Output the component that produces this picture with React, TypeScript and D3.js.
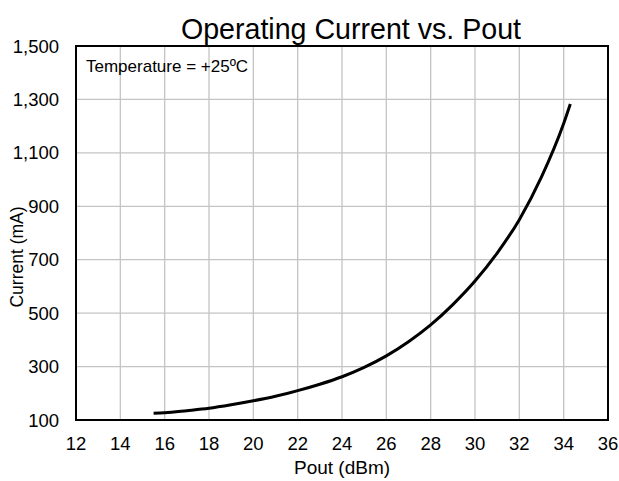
import React from 'react'
import * as d3 from 'd3'

// Pout (dBm)
const poutDbm = [15.5, 16, 17, 18, 19, 20, 21, 22, 23, 24, 25, 26, 27, 28, 29, 30, 31, 32, 33, 34, 34.3]
// Current (mA)
const currentMa = [125, 127, 135, 144, 157, 172, 189, 210, 234, 262, 297, 340, 393, 456, 532, 620, 725, 850, 1010, 1210, 1283]

const xTicks = [12, 14, 16, 18, 20, 22, 24, 26, 28, 30, 32, 34, 36]
const yTicks = [100, 300, 500, 700, 900, 1100, 1300, 1500]

const width = 619
const height = 481
const margin = { top: 46, right: 11, bottom: 61, left: 76 }

const App = () => {
	const plotW = width - margin.left - margin.right
	const plotH = height - margin.top - margin.bottom

	const x = d3.scaleLinear().domain([12, 36]).range([0, plotW])
	const y = d3.scaleLinear().domain([100, 1500]).range([plotH, 0])

	const points: [number, number][] = poutDbm.map((p, i) => [p, currentMa[i]])
	const line = d3.line<[number, number]>()
		.x(d => x(d[0]))
		.y(d => y(d[1]))
		.curve(d3.curveMonotoneX)

	const fmt = d3.format(',')
	const font = '"Liberation Sans", Arial, sans-serif'

	return (
		<svg width={width} height={height} style={{ position: 'absolute', left: 0, top: 0, fontFamily: font }}>
			<rect width={width} height={height} fill="#fff" />
			<text x={351} y={39} textAnchor="middle" fontSize={28.6} fill="#000">
				Operating Current vs. Pout
			</text>
			<g transform={`translate(${margin.left}, ${margin.top})`}>
				{/* grid */}
				{xTicks.map(t => (
					<line key={`vx-${t}`} x1={x(t)} x2={x(t)} y1={0} y2={plotH} stroke="#c4c4c4" strokeWidth={1.3} />
				))}
				{yTicks.map(t => (
					<line key={`hy-${t}`} x1={0} x2={plotW} y1={y(t)} y2={y(t)} stroke="#c4c4c4" strokeWidth={1.3} />
				))}

				<path d={line(points) ?? ''} fill="none" stroke="#000" strokeWidth={3} />

				<rect x={0} y={0} width={plotW} height={plotH} fill="none" stroke="#000" strokeWidth={2} />

				{xTicks.map(t => (
					<text key={`xl-${t}`} x={x(t)} y={plotH + 30} textAnchor="middle" fontSize={18.5} fill="#000">{t}</text>
				))}
				{yTicks.map(t => (
					<text key={`yl-${t}`} x={-17} y={y(t) + 6.5} textAnchor="end" fontSize={18.5} fill="#000">{fmt(t)}</text>
				))}

				<text x={10} y={26} fontSize={17} fill="#000">Temperature = +25ºC</text>
			</g>
			<text x={342} y={474} textAnchor="middle" fontSize={19} fill="#000">Pout (dBm)</text>
			<text transform={`translate(23, 257) rotate(-90)`} textAnchor="middle" fontSize={17.5} fill="#000">Current (mA)</text>
		</svg>
	)
}

export default App
